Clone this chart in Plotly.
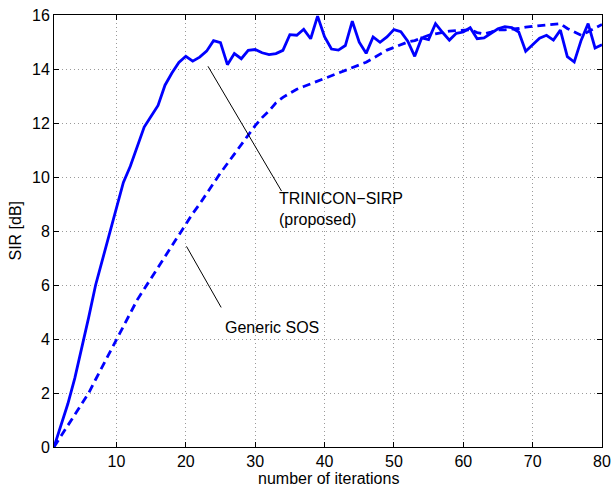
import plotly.graph_objects as go

iterations = list(range(1, 81))

trinicon_sirp = [
    0.0, 0.8, 1.6, 2.55, 3.65, 4.8, 6.0, 6.95, 7.9, 8.85,
    9.8, 10.4, 11.1, 11.85, 12.25, 12.65, 13.4, 13.85, 14.24, 14.47,
    14.29, 14.44, 14.66, 15.05, 14.98, 14.16, 14.57, 14.38, 14.69, 14.72,
    14.6, 14.53, 14.57, 14.69, 15.27, 15.25, 15.47, 15.12, 15.96, 15.2,
    14.74, 14.7, 14.87, 15.77, 14.99, 14.58, 15.19, 14.99, 15.19, 15.46,
    15.38, 15.03, 14.47, 15.15, 15.09, 15.68, 15.36, 15.07, 15.32, 15.37,
    15.53, 15.12, 15.15, 15.32, 15.49, 15.57, 15.53, 15.37, 14.66, 14.9,
    15.14, 15.25, 15.07, 15.44, 14.46, 14.26, 15.07, 15.68, 14.78, 14.9,
]

generic_sos = [
    0.0, 0.4, 0.8, 1.2, 1.6, 2.0, 2.5, 3.0, 3.5, 3.95,
    4.45, 4.95, 5.45, 5.85, 6.25, 6.65, 7.1, 7.5, 7.9, 8.3,
    8.65, 9.0, 9.4, 9.8, 10.15, 10.5, 10.85, 11.2, 11.55, 11.9,
    12.2, 12.45, 12.75, 12.95, 13.1, 13.25, 13.35, 13.45, 13.55, 13.65,
    13.75, 13.85, 13.95, 14.05, 14.15, 14.25, 14.4, 14.55, 14.7, 14.8,
    14.9, 15.0, 15.05, 15.15, 15.25, 15.3, 15.35, 15.4, 15.42, 15.43,
    15.45, 15.35, 15.3, 15.37, 15.45, 15.45, 15.47, 15.5, 15.55, 15.58,
    15.6, 15.63, 15.65, 15.68, 15.5, 15.38, 15.25, 15.38, 15.52, 15.65,
]

x_ticks = [10, 20, 30, 40, 50, 60, 70, 80]
y_ticks = [0, 2, 4, 6, 8, 10, 12, 14, 16]

FONT = "Liberation Sans, Arial, Helvetica, sans-serif"
BLUE = "#0000ff"

fig = go.Figure()
fig.add_trace(go.Scatter(x=iterations, y=trinicon_sirp, mode="lines",
                         line=dict(color=BLUE, width=2.8), name="TRINICON-SIRP"))
fig.add_trace(go.Scatter(x=iterations, y=generic_sos, mode="lines",
                         line=dict(color=BLUE, width=2.8, dash="8px,5px"), name="Generic SOS"))

# annotation pointer lines (data coordinates)
fig.add_shape(type="line", x0=23.2, y0=14.1, x1=33.8, y1=9.48,
              line=dict(color="black", width=1))
fig.add_shape(type="line", x0=20.1, y0=7.43, x1=25.1, y1=5.17,
              line=dict(color="black", width=1))

fig.add_annotation(x=33.2, y=8.8, xref="x", yref="y", text="TRINICON\u2212SIRP<br>(proposed)",
                   showarrow=False, xanchor="left", yanchor="middle", align="left",
                   font=dict(family=FONT, size=16, color="black"))
fig.add_annotation(x=25.4, y=4.43, xref="x", yref="y", text="Generic SOS",
                   showarrow=False, xanchor="left", yanchor="middle", align="left",
                   font=dict(family=FONT, size=16, color="black"))

# axis titles
fig.add_annotation(x=0.5005, y=-0.072, xref="paper", yref="paper", text="number of iterations",
                   showarrow=False, xanchor="center", yanchor="middle",
                   font=dict(family=FONT, size=16, color="black"))
fig.add_annotation(x=-0.072, y=0.5, xref="paper", yref="paper", text="SIR [dB]",
                   showarrow=False, xanchor="center", yanchor="middle", textangle=-90,
                   font=dict(family=FONT, size=16, color="black"))

axis_common = dict(
    showline=True, linecolor="black", linewidth=1, mirror="ticks",
    ticks="inside", ticklen=5, tickcolor="black",
    showgrid=True, gridcolor="#9a9a9a", griddash="1px,3px", gridwidth=1,
    zeroline=False, automargin=False, ticklabeloverflow="allow",
    tickfont=dict(family=FONT, size=16, color="black"),
)

fig.update_layout(
    width=611, height=488,
    margin=dict(l=53.5, r=9, t=15, b=41),
    paper_bgcolor="white", plot_bgcolor="white",
    showlegend=False, hovermode=False,
    font=dict(family=FONT, size=16, color="black"),
    xaxis=dict(range=[1, 80], tickvals=x_ticks, **axis_common),
    yaxis=dict(range=[0, 16], tickvals=y_ticks, **axis_common),
)

# remove the page's default body margin so the figure sits at the window origin
fig.write_html("out.html",
               config={"displayModeBar": False},
               post_script="document.body.style.margin='0';document.body.style.overflow='hidden';")
